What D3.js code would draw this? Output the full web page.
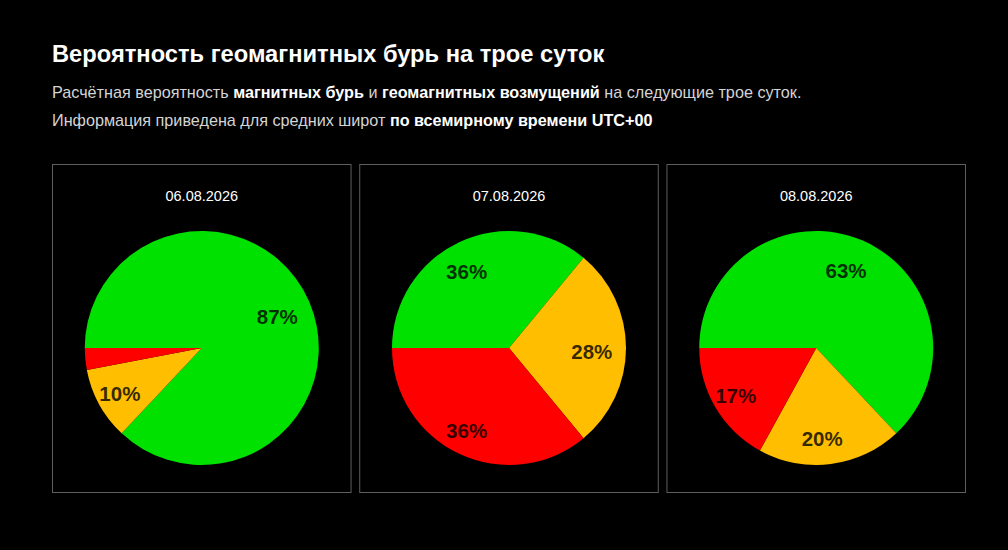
<!DOCTYPE html>
<html>
<head>
<meta charset="utf-8">
<script src="https://cdn.jsdelivr.net/npm/d3@7"></script>
<style>
html,body{margin:0;padding:0;background:#000;}
svg{display:block;font-family:"Liberation Sans",Arial,sans-serif;}
</style>
</head>
<body>
<svg id="chart" width="1008" height="550"></svg>
<script>
// ---- data ----
const dates = ["06.08.2026", "07.08.2026", "08.08.2026"];
const levels = ["Спокойно", "Возмущения", "Буря"];
const calmValues = [87, 36, 63];
const disturbValues = [10, 28, 20];
const stormValues = [3, 36, 17];
const levelColors = ["#00e100", "#ffbf00", "#ff0000"];

const title = "Вероятность геомагнитных бурь на трое суток";
const subtitleLines = [
  [["Расчётная вероятность ", false], ["магнитных бурь", true], [" и ", false],
   ["геомагнитных возмущений", true], [" на следующие трое суток.", false]],
  [["Информация приведена для средних широт ", false], ["по всемирному времени UTC+00", true]]
];

// ---- layout ----
const svg = d3.select("#chart");
svg.append("rect").attr("width", 1008).attr("height", 550).attr("fill", "#000");

svg.append("text").attr("x", 52).attr("y", 62)
  .attr("fill", "#fff").attr("font-size", 23.7).attr("font-weight", "bold")
  .text(title);

subtitleLines.forEach((line, i) => {
  const t = svg.append("text").attr("x", 52).attr("y", 98 + i * 28)
    .attr("font-size", 16.2);
  line.forEach(([s, b]) => {
    t.append("tspan").text(s)
      .attr("font-weight", b ? "bold" : "normal")
      .attr("fill", b ? "#fff" : "#d4d4d4");
  });
});

const panelX = d3.scaleBand().domain(dates).range([52, 966]).paddingInner(0.025);
const panelTop = 164, panelH = 328;
const R = 117;
const color = d3.scaleOrdinal().domain(levels).range(levelColors);
const pie = d3.pie().value(d => d.v).sort(null)
  .startAngle(-Math.PI / 2).endAngle(1.5 * Math.PI);
const arc = d3.arc().innerRadius(0).outerRadius(R);
const labelArc = d3.arc().innerRadius(R * 0.75).outerRadius(R * 0.75);

dates.forEach((d, i) => {
  const x0 = panelX(d), w = panelX.bandwidth();
  const g = svg.append("g");
  g.append("rect").attr("x", x0 + 0.5).attr("y", panelTop + 0.5)
    .attr("width", w - 1).attr("height", panelH)
    .attr("fill", "none").attr("stroke", "#5e5e5e").attr("stroke-width", 1);
  g.append("text").attr("x", x0 + w / 2).attr("y", 201)
    .attr("text-anchor", "middle").attr("fill", "#fff").attr("font-size", 14.5)
    .text(d);
  const data = [
    {k: levels[0], v: calmValues[i]},
    {k: levels[1], v: disturbValues[i]},
    {k: levels[2], v: stormValues[i]}
  ];
  const pg = g.append("g").attr("transform", `translate(${x0 + w / 2},348)`);
  const arcs = pie(data);
  pg.selectAll("path").data(arcs).join("path")
    .attr("d", arc).attr("fill", a => color(a.data.k));
  pg.selectAll("text").data(arcs.filter(a => a.data.v >= 5)).join("text")
    .attr("transform", a => `translate(${labelArc.centroid(a)})`)
    .attr("text-anchor", "middle").attr("dx", -5).attr("dy", 10.5)
    .attr("font-size", 20.5).attr("font-weight", "bold")
    .attr("fill", "#000").attr("fill-opacity", 0.8)
    .text(a => a.data.v + "%");
});
</script>
</body>
</html>
